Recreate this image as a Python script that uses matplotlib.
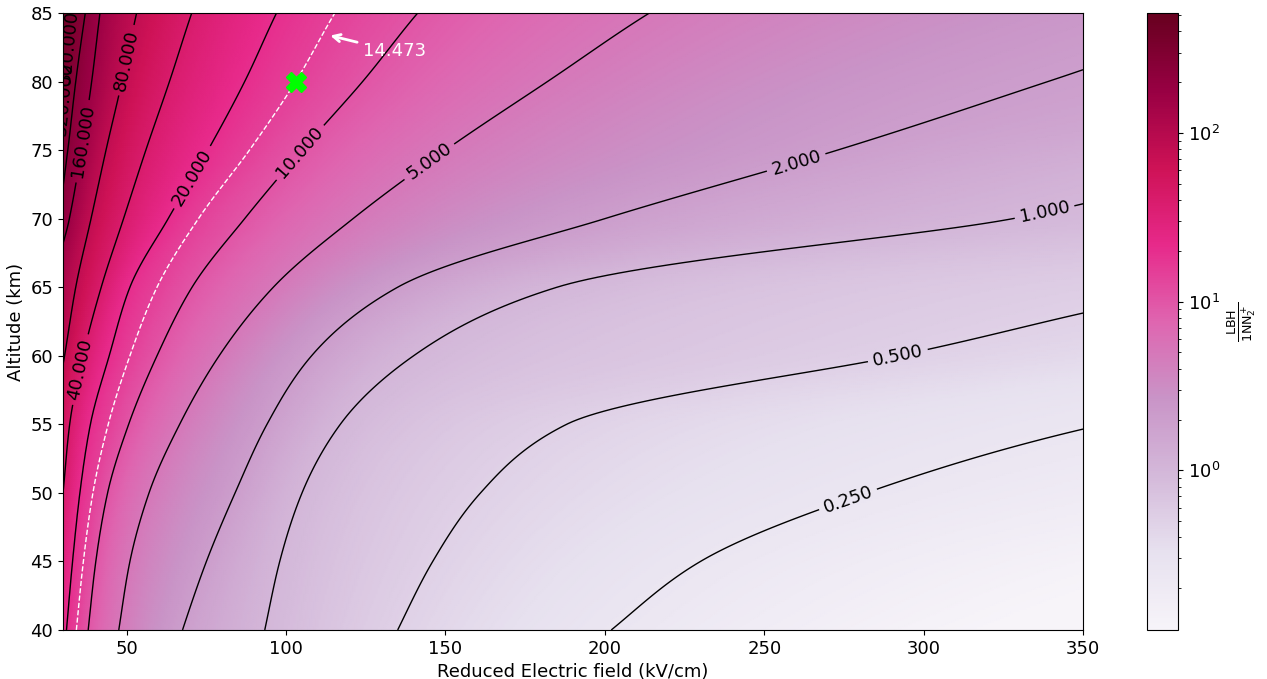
import numpy as np
import matplotlib
matplotlib.use("Agg")
import matplotlib.pyplot as plt
from matplotlib.colors import LogNorm

nan = np.nan

alt_rows = [40, 45, 50, 55, 60, 65, 70, 75, 80, 85]
# ratio LBH / 1NN2+ at the left (30 kV/cm) and right (350 kV/cm) edge
r_left = [23, 29, 40, 52, 85, 116, 200, 284, 351, 444]
r_right = [0.113, 0.15, 0.19, 0.255, 0.39, 0.6, 0.93, 1.35, 1.95, 2.45]

# reduced field (kV/cm) where each level is crossed, one value per row
x_320 = [nan, nan, nan, nan, nan, nan, nan, nan, 30.8, 33.0]
x_240 = [nan, nan, nan, nan, nan, nan, nan, 31.5, 34.0, 37.0]
x_160 = [nan, nan, nan, nan, nan, nan, 32.0, 35.8, 39.0, 41.6]
x_80 = [nan, nan, nan, nan, 30.5, 34.0, 38.8, 43.5, 48.5, 53.1]
x_40 = [nan, nan, nan, 32.1, 36.3, 42.0, 49.0, 56.0, 63.4, 70.4]
x_20 = [31.1, 33.0, 35.3, 38.6, 44.5, 51.0, 63.0, 75.5, 87.0, 97.0]
x_14 = [34.2, 36.4, 39.4, 44.2, 51.0, 59.5, 72.5, 88.5, 103.0, 115.3]
x_10 = [37.9, 40.3, 44.0, 50.6, 59.5, 70.5, 87.0, 105.0, 124.0, 141.3]
x_5 = [47.5, 51.0, 57.0, 66.6, 79.0, 96.0, 121.0, 150.0, 182.0, 214.0]
x_2 = [67.5, 75.0, 84.0, 94.0, 108.0, 135.0, 200.0, 273.0, 339.0, nan]
x_1 = [93.3, 98.0, 105.0, 117.0, 140.0, 185.0, 328.0, nan, nan, nan]
x_05 = [135.0, 146.0, 161.0, 188.0, 292.0, nan, nan, nan, nan, nan]
x_025 = [202.0, 230.0, 282.0, nan, nan, nan, nan, nan, nan, nan]

levels_read = [320, 240, 160, 80, 40, 20, 14.473, 10, 5, 2, 1, 0.5, 0.25]
crossings = [x_320, x_240, x_160, x_80, x_40, x_20, x_14, x_10, x_5, x_2,
             x_1, x_05, x_025]

line_levels = [0.25, 0.5, 1, 2, 5, 10, 20, 40, 80, 160, 240, 320]
ref_level = 14.473
marker_field, marker_alt = 103, 80


def pchip(xk, yk, x):
    # monotone cubic through the points, straight beyond the ends
    xk = np.asarray(xk, float)
    yk = np.asarray(yk, float)
    x = np.asarray(x, float)
    n = len(xk)
    h = np.diff(xk)
    d = np.diff(yk) / h
    m = np.zeros(n)
    m[0], m[-1] = d[0], d[-1]
    for k in range(1, n - 1):
        if d[k - 1] * d[k] > 0:
            w1 = 2 * h[k] + h[k - 1]
            w2 = h[k] + 2 * h[k - 1]
            m[k] = (w1 + w2) / (w1 / d[k - 1] + w2 / d[k])
    i = np.clip(np.searchsorted(xk, x) - 1, 0, n - 2)
    t = (x - xk[i]) / h[i]
    out = ((2 * t**3 - 3 * t**2 + 1) * yk[i] + (t**3 - 2 * t**2 + t) * h[i] * m[i]
           + (-2 * t**3 + 3 * t**2) * yk[i + 1] + (t**3 - t**2) * h[i] * m[i + 1])
    out = np.where(x < xk[0], yk[0] + m[0] * (x - xk[0]), out)
    out = np.where(x > xk[-1], yk[-1] + m[-1] * (x - xk[-1]), out)
    return out


lz = np.log10(levels_read)
lx = np.log(np.array(crossings, float))

# carry every level past the plot edges, so each one exists on every row
for i in range(len(alt_rows)):
    idx = np.where(~np.isnan(lx[:, i]))[0]
    k0, k1 = idx[0], idx[-1]
    s_left = (np.log10(r_left[i]) - lz[k0]) / (lx[k0, i] - np.log(30))
    s_right = (lz[k1] - np.log10(r_right[i])) / (np.log(350) - lx[k1, i])
    s_left = np.clip(s_left, 1.2, 2.0)
    s_right = np.clip(s_right, 0.4, 0.8)
    for k in range(k0):
        lx[k, i] = lx[k0, i] - (lz[k] - lz[k0]) / s_left
    for k in range(k1 + 1, len(lz)):
        lx[k, i] = lx[k1, i] + (lz[k1] - lz[k]) / s_right

xf = np.linspace(30, 350, 500)
yf = np.linspace(40, 85, 300)

# each contour as a smooth curve in altitude
lx_fine = np.array([pchip(alt_rows, lx[k], yf) for k in range(len(lz))])

# then the ratio along each fine altitude, smooth in log(field)
zf = np.empty((len(yf), len(xf)))
for j in range(len(yf)):
    zf[j] = pchip(lx_fine[:, j], lz, np.log(xf))
ratio = 10 ** zf
XF, YF = np.meshgrid(xf, yf)

plt.rcParams['font.size'] = 13

fig = plt.figure(figsize=(12.67, 6.79), dpi=100)
ax = fig.add_axes([0.0497, 0.0722, 0.8051, 0.9087])
cax = fig.add_axes([0.9053, 0.0722, 0.0245, 0.9087])

norm = LogNorm(vmin=0.113, vmax=515)
mesh = ax.pcolormesh(XF, YF, ratio, cmap='PuRd', norm=norm, shading='gouraud')
cs = ax.contour(XF, YF, ratio, levels=line_levels, colors='k', linewidths=1)
label_pos = [(276, 49.7), (292, 59.9), (338, 70.4), (260, 74.1), (146, 73.8),
             (104, 74.9), (70.7, 73), (35.3, 59), (49, 81.6), (34.6, 75.7),
             (31.5, 78.7), (32.1, 82.5)]
ax.clabel(cs, fmt='%.3f', fontsize=13, manual=label_pos)
ax.contour(XF, YF, ratio, levels=[ref_level], colors='white',
           linestyles='--', linewidths=1)

ax.plot(marker_field, marker_alt, 'X', color='#00ff00', ms=14)
ax.annotate('%.3f' % ref_level, xy=(113, 83.4), xytext=(124, 82.2),
            color='white', fontsize=13, va='center',
            arrowprops=dict(arrowstyle='->', color='white', lw=2))

ax.set_xlim(30, 350)
ax.set_ylim(40, 85)
ax.set_xlabel('Reduced Electric field (kV/cm)')
ax.set_ylabel('Altitude (km)')

cb = fig.colorbar(mesh, cax=cax)
cb.set_label(r'$\frac{\mathrm{LBH}}{\mathrm{1NN_2^+}}$')

fig.savefig('out.png', dpi=100)
